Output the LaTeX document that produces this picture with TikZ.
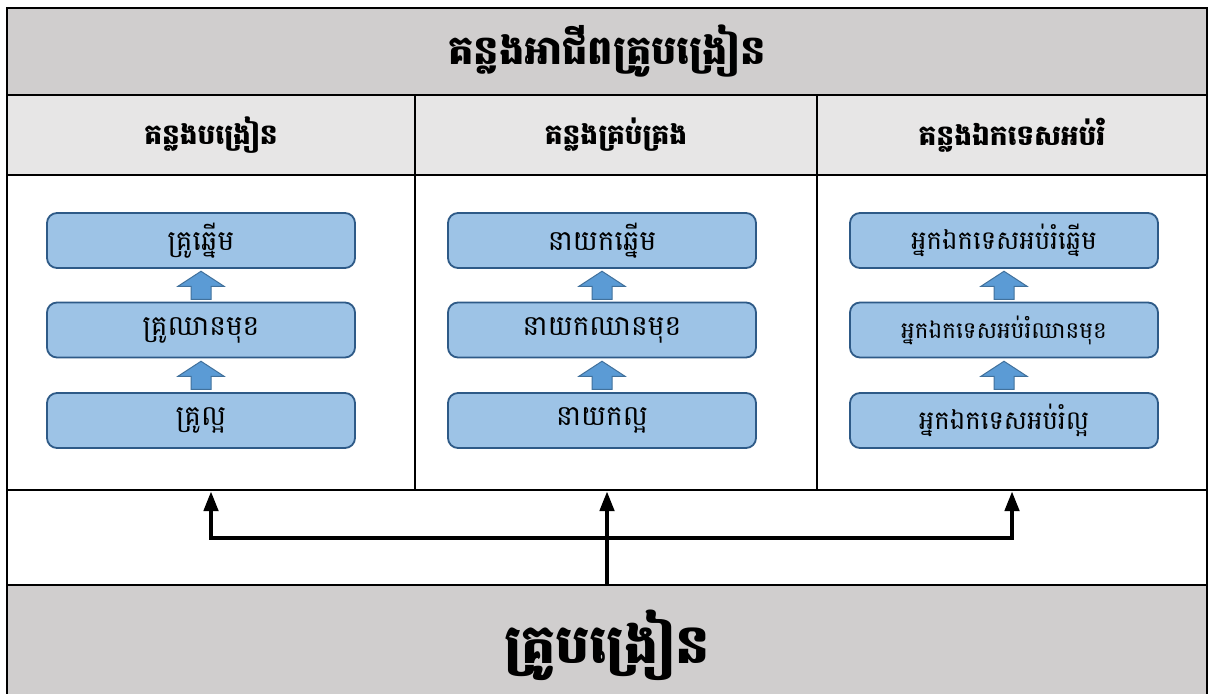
\documentclass[tikz,border=0pt]{standalone}
\usepackage{fontspec}
\newfontfamily\kh[Script=Khmer]{Battambang}
\usetikzlibrary{arrows.meta,calc}
\definecolor{bandgray}{HTML}{D0CECE}
\definecolor{headgray}{HTML}{E7E6E6}
\definecolor{boxfill}{HTML}{9DC3E6}
\definecolor{boxline}{HTML}{2E5A87}
\definecolor{arrfill}{HTML}{5B9BD5}
\definecolor{arrline}{HTML}{41719C}
\tikzset{
  frame/.style={draw=black, line width=2.2pt, rectangle, inner sep=0pt},
  band/.style={frame, fill=bandgray},
  headcell/.style={frame, fill=headgray, minimum height=80pt, font=\kh\bfseries\fontsize{28}{32}\selectfont},
  bodycell/.style={frame, fill=white, minimum height=315pt},
  level/.style={draw=boxline, line width=1.8pt, fill=boxfill, rounded corners=10pt, minimum width=308pt, minimum height=55pt, inner sep=0pt, font=\kh\fontsize{28}{32}\selectfont},
  conn/.style={line width=4.5pt, {Triangle[length=20pt,width=14pt]}-{Triangle[length=20pt,width=14pt]}, line join=miter},
  connone/.style={line width=4.5pt, -{Triangle[length=20pt,width=14pt]}},
  uparrow/.pic={\draw[draw=arrline, line width=1pt, fill=arrfill]
     (-10,14) -- (-10,1) -- (-23,1) -- (0,-14) -- (23,1) -- (10,1) -- (10,14) -- cycle;}
}
\begin{document}
\begin{tikzpicture}[x=1pt,y=-1pt]
\useasboundingbox (0,0) rectangle (1212,693);
\fill[white] (0,0) rectangle (1212,693);
% white frame between body and bottom band
\draw[line width=2.2pt] (7,490) -- (7,585) (1207,490) -- (1207,585);
% title
\node[band, minimum width=1200pt, minimum height=87pt, font=\kh\bfseries\fontsize{40}{46}\selectfont] (title) at (607,51.5) {គន្លងអាជីពគ្រូបង្រៀន};
% headers
\node[headcell, minimum width=408pt] (h1) at (211,135) {គន្លងបង្រៀន};
\node[headcell, minimum width=402pt] (h2) at (616,135) {គន្លងគ្រប់គ្រង};
\node[headcell, minimum width=390pt] (h3) at (1012,135) {គន្លងឯកទេសអប់រំ};
% bodies
\node[bodycell, minimum width=408pt] (c1) at (211,332.5) {};
\node[bodycell, minimum width=402pt] (c2) at (616,332.5) {};
\node[bodycell, minimum width=390pt] (c3) at (1012,332.5) {};
% bottom band
\node[band, minimum width=1200pt, minimum height=120pt, font=\kh\bfseries\fontsize{54}{60}\selectfont] (base) at (607,645) {គ្រូបង្រៀន};
% column 1
\node[level] (a1) at (201,240.5) {គ្រូឆ្នើម};
\node[level] (a2) at (201,330) {គ្រូឈានមុខ};
\node[level] (a3) at (201,420.5) {គ្រូល្អ};
% column 2
\node[level] (b1) at (602,240.5) {នាយកឆ្នើម};
\node[level] (b2) at (602,330) {នាយកឈានមុខ};
\node[level] (b3) at (602,420.5) {នាយកល្អ};
% column 3
\node[level, font=\kh\fontsize{26}{30}\selectfont] (d1) at (1004,240.5) {អ្នកឯកទេសអប់រំឆ្នើម};
\node[level, font=\kh\fontsize{23}{27}\selectfont] (d2) at (1004,330) {អ្នកឯកទេសអប់រំឈានមុខ};
\node[level, font=\kh\fontsize{26}{30}\selectfont] (d3) at (1004,420.5) {អ្នកឯកទេសអប់រំល្អ};
% block arrows
\foreach \u/\l in {a1/a2,a2/a3,b1/b2,b2/b3,d1/d2,d2/d3}
  \pic at ($(\u.south)!0.5!(\l.north)$) {uparrow};
% connectors
\coordinate (hb) at (0,538);
\draw[connone] (base.north) -- (base.north |- c2.south);
\draw[conn] (c1.south) -- (c1.south |- hb) -- (c3.south |- hb) -- (c3.south);
\end{tikzpicture}
\end{document}
